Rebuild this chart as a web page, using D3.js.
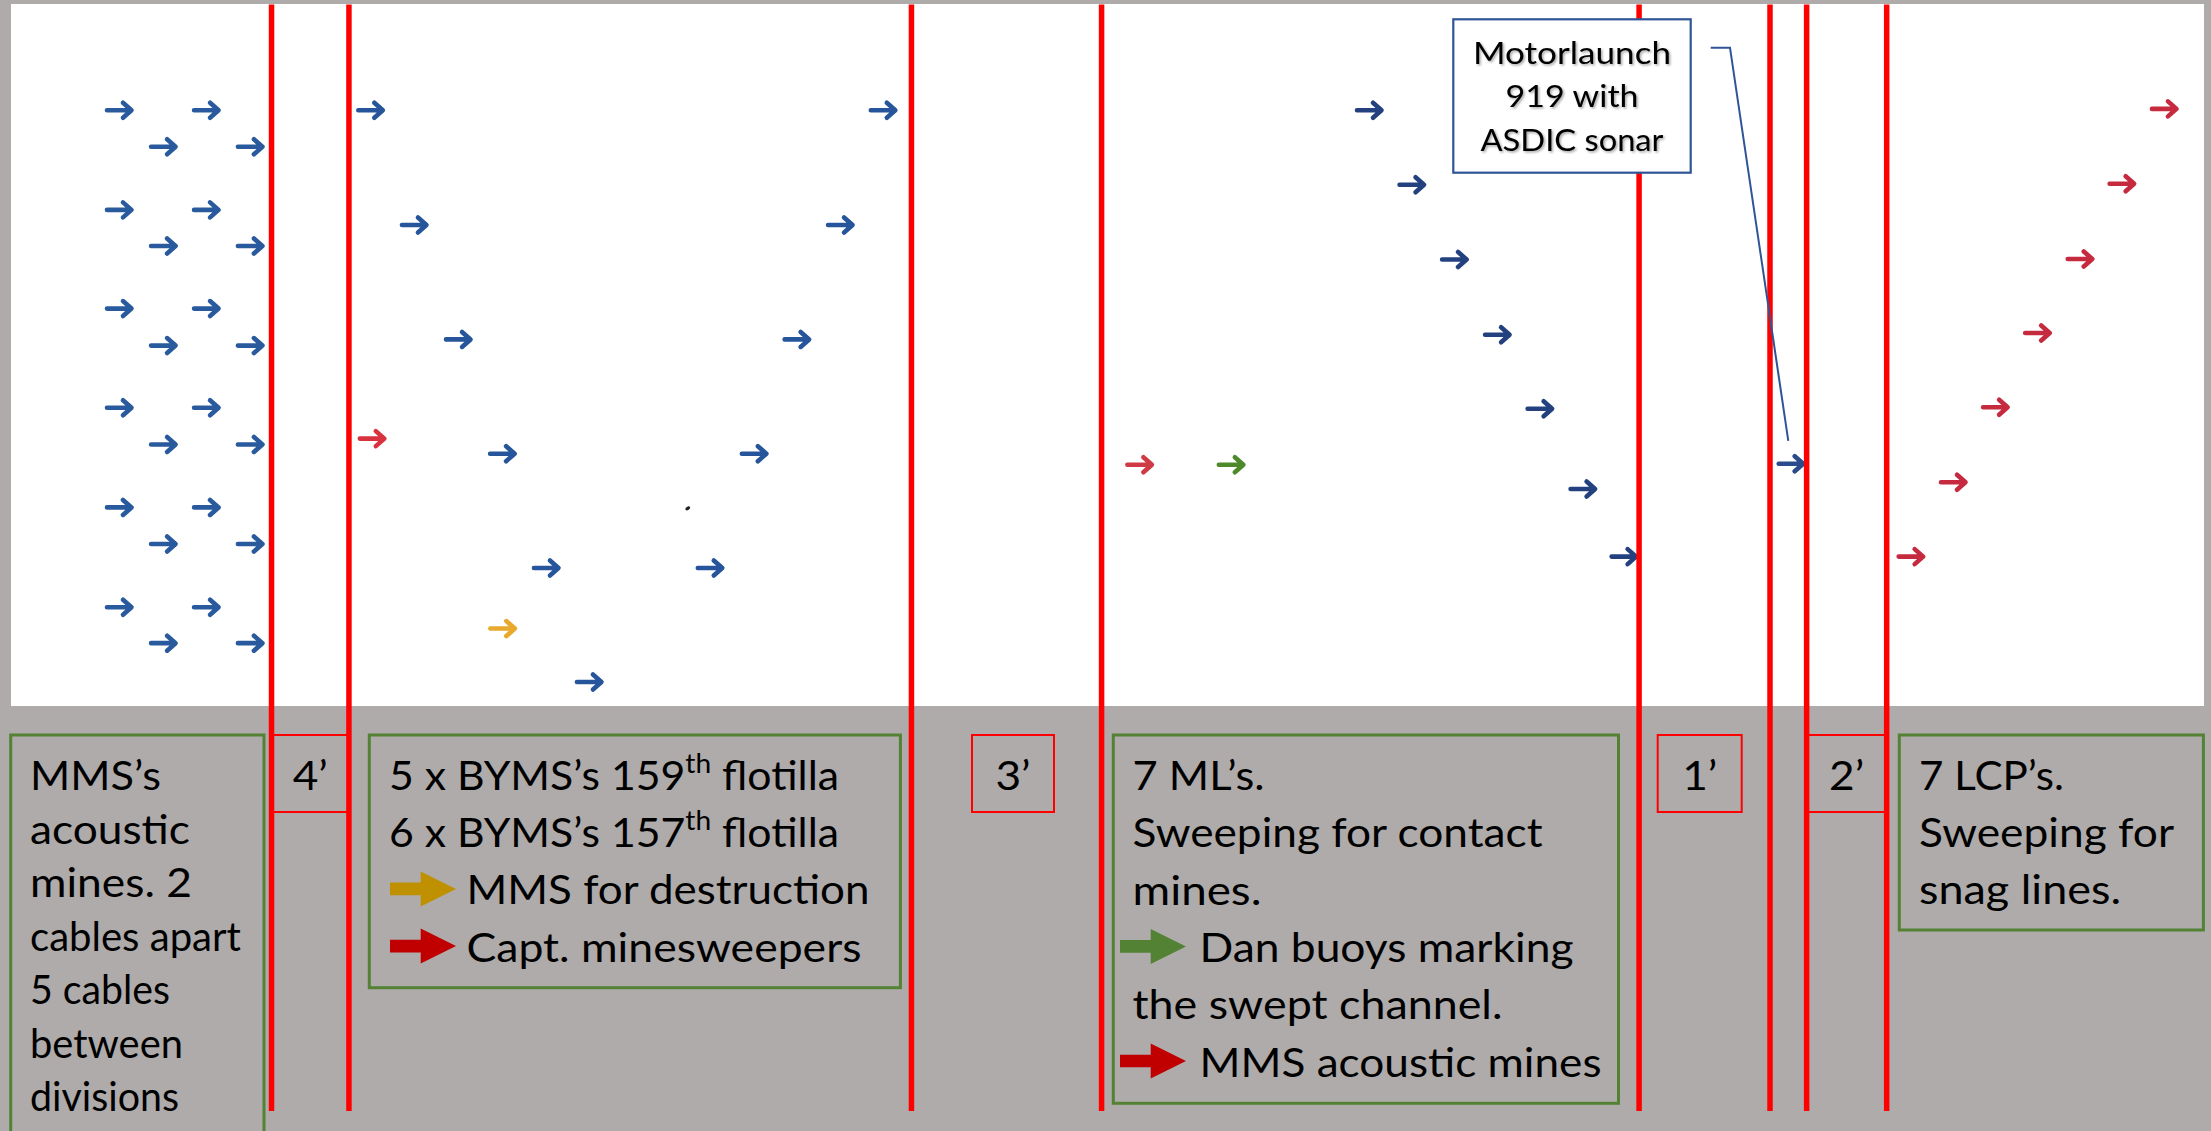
<!DOCTYPE html>
<html><head><meta charset="utf-8">
<script src="https://cdn.jsdelivr.net/npm/d3@7"></script>
<style>html,body{margin:0;padding:0;background:#aeabaa;overflow:hidden}</style>
</head><body>
<svg id="chart" width="2211" height="1131"></svg>
<script>
// ---------------- DATA (x: % along the sweep area, y: % of its depth) ----------------
const laneBoundaries = [11.88, 15.41, 41.06, 49.73, 74.24, 80.21, 81.88, 85.53];
const laneLabels = ["4’", "3’", "1’", "2’"];

const mmsAcoustic = [
  [4.97,15.14],[8.94,15.14],[6.98,20.34],[10.94,20.34],
  [4.97,29.33],[8.94,29.33],[6.98,34.47],[10.94,34.47],
  [4.97,43.39],[8.94,43.39],[6.98,48.66],[10.94,48.66],
  [4.97,57.52],[8.94,57.52],[6.98,62.74],[10.94,62.74],
  [4.97,71.71],[8.94,71.71],[6.98,76.92],[10.94,76.92],
  [4.97,85.93],[8.94,85.93],[6.98,91.05],[10.94,91.05]
];
const byms = [[16.43,15.14],[39.80,15.14],[18.42,31.48],[37.85,31.48],[20.43,47.78],[35.87,47.78],
              [22.44,64.06],[33.92,64.06],[24.44,80.34],[31.91,80.34],[26.40,96.58]];
const captMinesweeper = [[16.50,61.91]];
const mmsForDestruction = [[22.45,88.97]];
const debris = [[30.86,71.84]];
const motorLaunches = [[61.97,15.14],[63.91,25.74],[65.85,36.40],[67.81,47.12],[69.75,57.65],[71.71,69.09],[73.58,78.72]];
const mlAcousticMines = [[51.50,65.63]];
const danBuoys = [[55.67,65.63]];
const ml919 = [[81.20,65.50]];
const lcps = [[98.22,14.94],[96.29,25.60],[94.38,36.32],[92.44,46.87],[90.52,57.45],[88.60,68.12],[86.67,78.72]];

const calloutLines = ["Motorlaunch", "919 with", "ASDIC sonar"];
const mmsNote = ["MMS’s", "acoustic", "mines. 2", "cables apart", "5 cables", "between", "divisions"];
const bymsNote = [
  [{t:"5 x BYMS’s 159"},{t:"th",sup:true},{t:" flotilla"}],
  [{t:"6 x BYMS’s 157"},{t:"th",sup:true},{t:" flotilla"}],
  {arrow:"yellow", t:"MMS for destruction"},
  {arrow:"red", t:"Capt. minesweepers"}
];
const mlNote = ["7 ML’s.", "Sweeping for contact", "mines.",
  {arrow:"green", t:"Dan buoys marking"}, "the swept channel.",
  {arrow:"red", t:"MMS acoustic mines"}];
const lcpNote = ["7 LCP’s.", "Sweeping for", "snag lines."];

// ---------------- LAYOUT / STYLE ----------------
const W = 2211, H = 1131;
const plot = {left: 11, top: 4, right: 2204, bottom: 706};
const FONT = "Lato, 'Open Sans', sans-serif";
const FS = 41;
const legendColors = {yellow: "#bf9000", red: "#c00000", green: "#548235"};
// rendered line widths of the original (Calibri) text, used to fit Lato to the same length
const lineWidths = {
  "MMS’s": 131, "acoustic": 160, "mines. 2": 162, "cables apart": 211, "5 cables": 140,
  "between": 153, "divisions": 149,
  "5 x BYMS’s 159th flotilla": 450, "6 x BYMS’s 157th flotilla": 450,
  "MMS for destruction": 403, "Capt. minesweepers": 395,
  "7 ML’s.": 132, "Sweeping for contact": 410, "mines.": 129, "Dan buoys marking": 374,
  "the swept channel.": 370, "MMS acoustic mines": 402,
  "7 LCP’s.": 145, "Sweeping for": 255, "snag lines.": 202,
  "Motorlaunch": 198, "919 with": 133, "ASDIC sonar": 183
};

const svg = d3.select("#chart");
svg.append("rect").attr("width", W).attr("height", H).attr("fill", "#aeabaa");

const x = d3.scaleLinear().domain([0, 100]).range([plot.left, plot.right]);
const y = d3.scaleLinear().domain([0, 100]).range([plot.top, plot.bottom]);

svg.append("rect").attr("x", plot.left).attr("y", plot.top)
  .attr("width", plot.right - plot.left).attr("height", plot.bottom - plot.top).attr("fill", "#ffffff");

const defs = svg.append("defs");
const f = defs.append("filter").attr("id", "tshadow").attr("x", "-10%").attr("y", "-20%").attr("width", "130%").attr("height", "150%");
f.append("feDropShadow").attr("dx", 1.5).attr("dy", 1.5).attr("stdDeviation", 1.2)
  .attr("flood-color", "#000").attr("flood-opacity", 0.35);

// small ship arrows
const ARROW = "M-13,0H10 M3,-7.5L11.5,0L3,7.5";
const series = [
  {data: mmsAcoustic, color: "#2a5a9e"},
  {data: byms, color: "#26559b"},
  {data: captMinesweeper, color: "#d8323f"},
  {data: mmsForDestruction, color: "#e8a92c"},
  {data: motorLaunches, color: "#24417f"},
  {data: mlAcousticMines, color: "#cf3a45"},
  {data: danBuoys, color: "#4e8a2c"},
  {data: ml919, color: "#2b4b8c"},
  {data: lcps, color: "#c52a3e"}
];
const shipG = svg.append("g");
series.forEach(s => {
  shipG.append("g").selectAll("path").data(s.data).join("path")
    .attr("transform", d => `translate(${x(d[0])},${y(d[1])})`)
    .attr("d", ARROW).attr("fill", "none").attr("stroke", s.color)
    .attr("stroke-width", 4.6).attr("stroke-linecap", "round").attr("stroke-linejoin", "round");
});
shipG.selectAll("ellipse.debris").data(debris).join("ellipse")
  .attr("cx", d => x(d[0])).attr("cy", d => y(d[1])).attr("rx", 2.6).attr("ry", 1.6)
  .attr("transform", d => `rotate(-35,${x(d[0])},${y(d[1])})`).attr("fill", "#222");

// lane boundaries
const LINE_BOTTOM = 1111;
svg.append("g").selectAll("line").data(laneBoundaries).join("line")
  .attr("x1", d => x(d)).attr("x2", d => x(d))
  .attr("y1", plot.top + 0.5).attr("y2", LINE_BOTTOM)
  .attr("stroke", "#ff0000").attr("stroke-width", 5.5);

// width fitting helper (approximate Calibri proportions with Lato)
function kFor(size, sample, target) {
  const p = svg.append("text").attr("font-family", FONT).attr("font-size", size).text(sample);
  const w = p.node().getComputedTextLength(); p.remove();
  return target / w;
}
const kMain = kFor(FS, "Sweeping for contact", 410);
const kCall = kFor(31, "Motorlaunch", 198);
function fit(sel, k) {
  sel.each(function() {
    const L = this.getComputedTextLength();
    const key = this.textContent;
    const target = lineWidths[key] !== undefined ? lineWidths[key] : L * k;
    this.setAttribute("textLength", target);
    this.setAttribute("lengthAdjust", "spacingAndGlyphs");
  });
}

// callout
const call = {x0: 1453.3, y0: 19.3, x1: 1690.7, y1: 172.7, cx: 1572, base: 63.5, lh: 43.5};
const leader = [[1710.7, 47.7], [1730, 47.7], [1788.3, 440.8]];
svg.append("path").attr("d", d3.line()(leader)).attr("fill", "none")
  .attr("stroke", "#2f5597").attr("stroke-width", 2);
svg.append("rect").attr("x", call.x0).attr("y", call.y0).attr("width", call.x1 - call.x0)
  .attr("height", call.y1 - call.y0).attr("fill", "#fff").attr("stroke", "#2f5597").attr("stroke-width", 2.2);
const ct = svg.append("g").attr("filter", "url(#tshadow)").selectAll("text").data(calloutLines).join("text")
  .attr("x", call.cx).attr("y", (d, i) => call.base + i * call.lh)
  .attr("text-anchor", "middle").attr("font-family", FONT).attr("font-size", 31).attr("fill", "#000")
  .text(d => d);
fit(ct, kCall);

// lane label boxes
const labelBoxes = [
  {x0: x(laneBoundaries[0]), x1: x(laneBoundaries[1])},
  {x0: 972, x1: 1054},
  {x0: 1657.7, x1: 1741.7},
  {x0: x(laneBoundaries[6]), x1: x(laneBoundaries[7])}
];
const lb = svg.append("g").selectAll("g").data(laneLabels).join("g");
lb.append("rect").attr("x", (d, i) => labelBoxes[i].x0).attr("y", 735)
  .attr("width", (d, i) => labelBoxes[i].x1 - labelBoxes[i].x0).attr("height", 77)
  .attr("fill", "none").attr("stroke", "#ff0000").attr("stroke-width", 2);
const lbt = lb.append("text").attr("x", (d, i) => (labelBoxes[i].x0 + labelBoxes[i].x1) / 2).attr("y", 790)
  .attr("text-anchor", "middle").attr("font-family", FONT).attr("font-size", FS).attr("fill", "#000")
  .text(d => d);
fit(lbt, kMain);

// note boxes
const notes = [
  {lines: mmsNote, x0: 10.7, x1: 264, y0: 735, y1: 1150, tx: 30, ax: 0, atx: 0, lh: 53.5},
  {lines: bymsNote, x0: 369.3, x1: 900.4, y0: 735, y1: 987.7, tx: 389, ax: 390, atx: 466.5, lh: 57.2},
  {lines: mlNote, x0: 1113.3, x1: 1618.5, y0: 735, y1: 1103.3, tx: 1132.5, ax: 1120, atx: 1199.5, lh: 57.3},
  {lines: lcpNote, x0: 1899.3, x1: 2203.4, y0: 735, y1: 930, tx: 1919, ax: 0, atx: 0, lh: 57.2}
];
const BLOCK = "M0,-6.35H30.7V-17.5L66,0L30.7,17.5V6.35H0Z";
notes.forEach(n => {
  const g = svg.append("g");
  g.append("rect").attr("x", n.x0).attr("y", n.y0).attr("width", n.x1 - n.x0).attr("height", n.y1 - n.y0)
    .attr("fill", "none").attr("stroke", "#548235").attr("stroke-width", 3);
  n.lines.forEach((ln, i) => {
    const base = 790 + i * n.lh;
    const t = g.append("text").attr("font-family", FONT).attr("font-size", FS).attr("fill", "#000").attr("y", base);
    if (typeof ln === "string") {
      t.attr("x", n.tx).text(ln);
    } else if (Array.isArray(ln)) {
      t.attr("x", n.tx);
      let shifted = false;
      ln.forEach(seg => {
        const s = t.append("tspan").text(seg.t);
        if (seg.sup) { s.attr("font-size", 27).attr("dy", -17); shifted = true; }
        else if (shifted) { s.attr("dy", 17); shifted = false; }
      });
    } else {
      g.append("path").attr("d", BLOCK).attr("transform", `translate(${n.ax},${base - 15.5})`)
        .attr("fill", legendColors[ln.arrow]);
      t.attr("x", n.atx).text(ln.t);
    }
    fit(t, kMain);
  });
});
</script>
</body></html>
